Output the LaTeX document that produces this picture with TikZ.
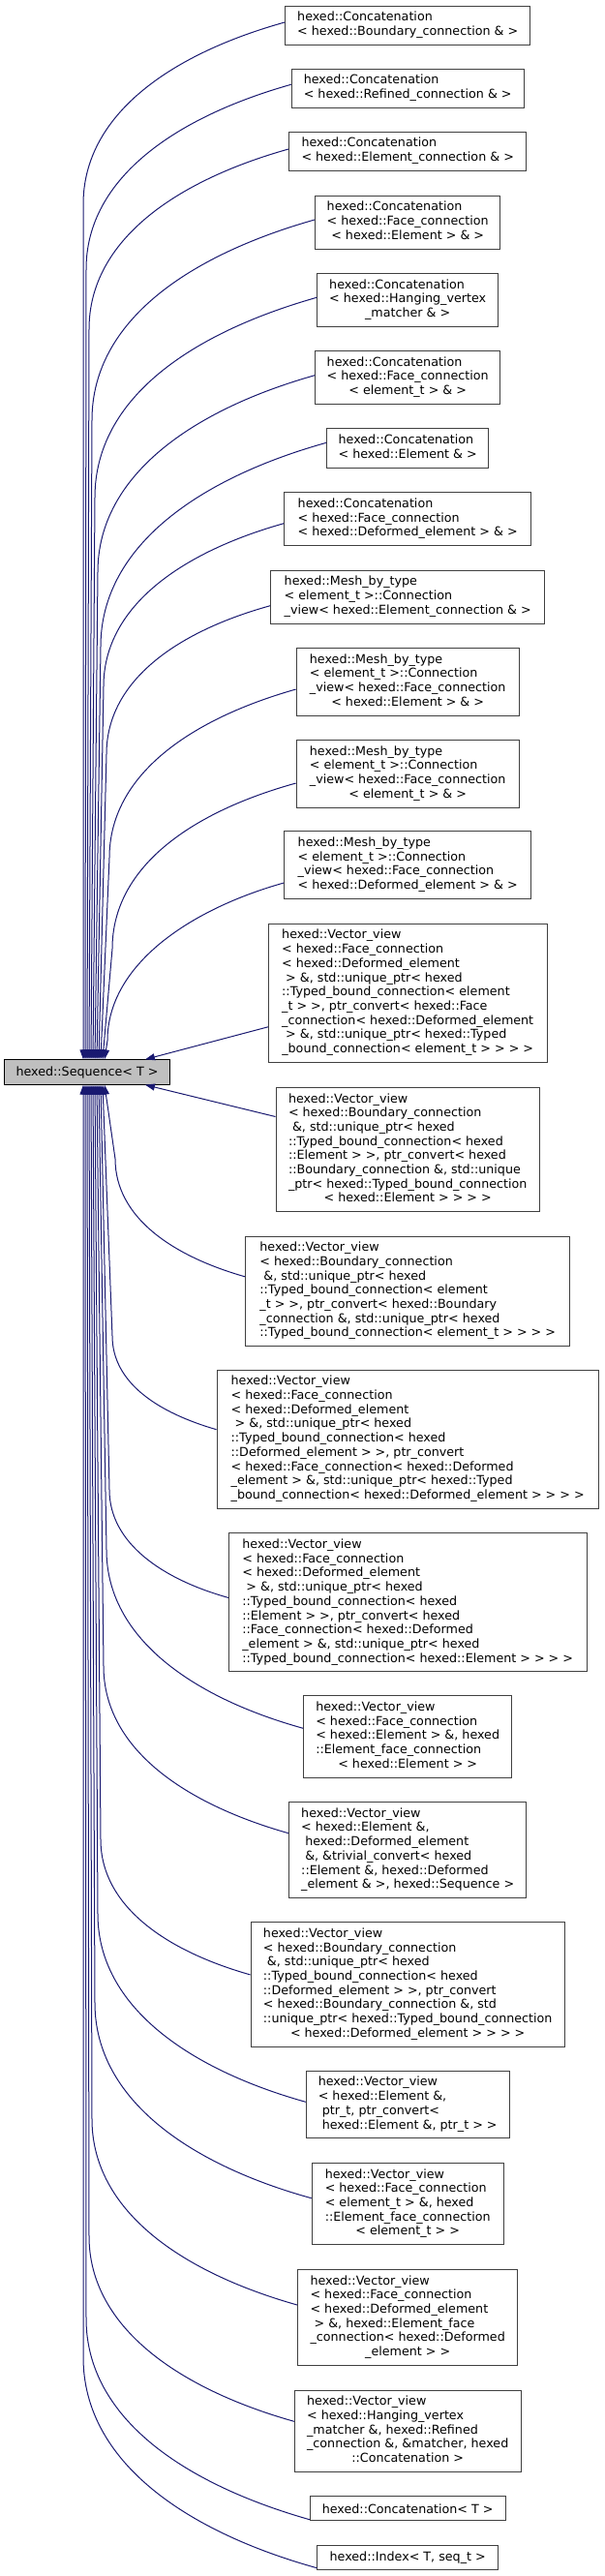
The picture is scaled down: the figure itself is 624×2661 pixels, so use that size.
\documentclass[tikz,border=0pt]{standalone}
\usepackage{fontspec}
\setmainfont{DejaVu Sans}
\usetikzlibrary{arrows.meta,calc}
\definecolor{edgeblue}{HTML}{191970}
\definecolor{boxline}{HTML}{404040}
\definecolor{seqfill}{HTML}{BFBFBF}
\newcommand{\dxlab}[2]{\begin{tabular}{@{}l@{}}#1\\\multicolumn{1}{@{}c@{}}{#2}\end{tabular}}
\begin{document}
\begin{tikzpicture}[x=1pt,y=-1pt,
  box/.style={draw=boxline, line width=1pt, fill=white, inner sep=0pt,
    font=\fontsize{12.7pt}{14.7pt}\selectfont, anchor=center},
  seqbox/.style={box, fill=seqfill, draw=black},
  edge/.style={draw=edgeblue, line width=1pt, -{Triangle[length=10pt,width=7pt]}}]
\useasboundingbox (0,0) rectangle (624,2661);

\node[seqbox, minimum width=171.6pt, minimum height=25.3pt] (seq) at (90,1107.5) {hexed::Sequence< T >};

\node[box, minimum width=253pt, minimum height=40pt] (n1) at (421.2,26) {\dxlab{hexed::Concatenation}{< hexed::Boundary\_connection \& >}};
\node[box, minimum width=240pt, minimum height=40pt] (n2) at (421.2,91) {\dxlab{hexed::Concatenation}{< hexed::Refined\_connection \& >}};
\node[box, minimum width=245.3pt, minimum height=40pt] (n3) at (421.2,156.3) {\dxlab{hexed::Concatenation}{< hexed::Element\_connection \& >}};
\node[box, minimum width=191.4pt, minimum height=54.7pt] (n4) at (421.2,229.7) {\dxlab{hexed::Concatenation\\< hexed::Face\_connection}{< hexed::Element > \& >}};
\node[box, minimum width=187pt, minimum height=54.7pt] (n5) at (421.2,310) {\dxlab{hexed::Concatenation\\< hexed::Hanging\_vertex}{\_matcher \& >}};
\node[box, minimum width=191pt, minimum height=54.7pt] (n6) at (421.2,390) {\dxlab{hexed::Concatenation\\< hexed::Face\_connection}{< element\_t > \& >}};
\node[box, minimum width=167pt, minimum height=40.3pt] (n7) at (421.2,463) {\dxlab{hexed::Concatenation}{< hexed::Element \& >}};
\node[box, minimum width=255pt, minimum height=54.7pt] (n8) at (421.2,536.3) {\dxlab{hexed::Concatenation\\< hexed::Face\_connection}{< hexed::Deformed\_element > \& >}};
\node[box, minimum width=283pt, minimum height=54.7pt] (n9) at (421.2,616.7) {\dxlab{hexed::Mesh\_by\_type\\< element\_t >::Connection}{\_view< hexed::Element\_connection \& >}};
\node[box, minimum width=230pt, minimum height=69.4pt] (n10) at (421.2,704.3) {\dxlab{hexed::Mesh\_by\_type\\< element\_t >::Connection\\\_view< hexed::Face\_connection}{< hexed::Element > \& >}};
\node[box, minimum width=230pt, minimum height=69.4pt] (n11) at (421.2,799.3) {\dxlab{hexed::Mesh\_by\_type\\< element\_t >::Connection\\\_view< hexed::Face\_connection}{< element\_t > \& >}};
\node[box, minimum width=255pt, minimum height=69.4pt] (n12) at (421.2,893.5) {\dxlab{hexed::Mesh\_by\_type\\< element\_t >::Connection\\\_view< hexed::Face\_connection}{< hexed::Deformed\_element > \& >}};
\node[box, minimum width=287.6pt, minimum height=142.6pt] (n13) at (421.2,1025.8) {\dxlab{hexed::Vector\_view\\< hexed::Face\_connection\\< hexed::Deformed\_element\\\ > \&, std::unique\_ptr< hexed\\::Typed\_bound\_connection< element\\\_t > >, ptr\_convert< hexed::Face\\\_connection< hexed::Deformed\_element\\\ > \&, std::unique\_ptr< hexed::Typed}{\_bound\_connection< element\_t > > > >}};
\node[box, minimum width=272.3pt, minimum height=128.2pt] (n14) at (421.2,1187.5) {\dxlab{hexed::Vector\_view\\< hexed::Boundary\_connection\\\ \&, std::unique\_ptr< hexed\\::Typed\_bound\_connection< hexed\\::Element > >, ptr\_convert< hexed\\::Boundary\_connection \&, std::unique\\\_ptr< hexed::Typed\_bound\_connection}{< hexed::Element > > > >}};
\node[box, minimum width=335.2pt, minimum height=113.5pt] (n15) at (421.2,1333.8) {\dxlab{hexed::Vector\_view\\< hexed::Boundary\_connection\\\ \&, std::unique\_ptr< hexed\\::Typed\_bound\_connection< element\\\_t > >, ptr\_convert< hexed::Boundary\\\_connection \&, std::unique\_ptr< hexed}{::Typed\_bound\_connection< element\_t > > > >}};
\node[box, minimum width=394.2pt, minimum height=142.9pt] (n16) at (421.2,1486.7) {\dxlab{hexed::Vector\_view\\< hexed::Face\_connection\\< hexed::Deformed\_element\\\ > \&, std::unique\_ptr< hexed\\::Typed\_bound\_connection< hexed\\::Deformed\_element > >, ptr\_convert\\< hexed::Face\_connection< hexed::Deformed\\\_element > \&, std::unique\_ptr< hexed::Typed}{\_bound\_connection< hexed::Deformed\_element > > > >}};
\node[box, minimum width=369.6pt, minimum height=142.9pt] (n17) at (421.2,1655.4) {\dxlab{hexed::Vector\_view\\< hexed::Face\_connection\\< hexed::Deformed\_element\\\ > \&, std::unique\_ptr< hexed\\::Typed\_bound\_connection< hexed\\::Element > >, ptr\_convert< hexed\\::Face\_connection< hexed::Deformed\\\_element > \&, std::unique\_ptr< hexed}{::Typed\_bound\_connection< hexed::Element > > > >}};
\node[box, minimum width=215pt, minimum height=84.1pt] (n18) at (421.2,1794) {\dxlab{hexed::Vector\_view\\< hexed::Face\_connection\\< hexed::Element > \&, hexed\\::Element\_face\_connection}{< hexed::Element > >}};
\node[box, minimum width=245.3pt, minimum height=98.8pt] (n19) at (421.2,1911) {\dxlab{hexed::Vector\_view\\< hexed::Element \&,\\\ hexed::Deformed\_element\\\ \&, \&trivial\_convert< hexed\\::Element \&, hexed::Deformed}{\_element \& >, hexed::Sequence >}};
\node[box, minimum width=324.2pt, minimum height=128.2pt] (n20) at (421.2,2049.9) {\dxlab{hexed::Vector\_view\\< hexed::Boundary\_connection\\\ \&, std::unique\_ptr< hexed\\::Typed\_bound\_connection< hexed\\::Deformed\_element > >, ptr\_convert\\< hexed::Boundary\_connection \&, std\\::unique\_ptr< hexed::Typed\_bound\_connection}{< hexed::Deformed\_element > > > >}};
\node[box, minimum width=209.7pt, minimum height=69.4pt] (n21) at (421.2,2174) {\dxlab{hexed::Vector\_view\\< hexed::Element \&,\\\ ptr\_t, ptr\_convert<}{\ hexed::Element \&, ptr\_t > >}};
\node[box, minimum width=198pt, minimum height=84.1pt] (n22) at (421.2,2276.5) {\dxlab{hexed::Vector\_view\\< hexed::Face\_connection\\< element\_t > \&, hexed\\::Element\_face\_connection}{< element\_t > >}};
\node[box, minimum width=227.3pt, minimum height=98.8pt] (n23) at (421.2,2393.9) {\dxlab{hexed::Vector\_view\\< hexed::Face\_connection\\< hexed::Deformed\_element\\\ > \&, hexed::Element\_face\\\_connection< hexed::Deformed}{\_element > >}};
\node[box, minimum width=233.7pt, minimum height=84.1pt] (n24) at (421.2,2511.2) {\dxlab{hexed::Vector\_view\\< hexed::Hanging\_vertex\\\_matcher \&, hexed::Refined\\\_connection \&, \&matcher, hexed}{::Concatenation >}};
\node[box, minimum width=201.7pt, minimum height=25.3pt] (n25) at (421.2,2591.3) {hexed::Concatenation< T >};
\node[box, minimum width=186.6pt, minimum height=25.3pt] (n26) at (421.2,2641.7) {hexed::Index< T, seq\_t >};

% upper edges
\draw[edge] ($(n1.west)+(0,-3)$) .. controls +(-115,32) and +(0,-94) .. (86,211) -- ($(seq.north)+(-4,0)$);
\draw[edge] ($(n2.west)+(0,-3.7)$) .. controls +(-117,33) and +(0,-95) .. (89,278) -- ($(seq.north)+(-2,0)$);
\draw[edge] ($(n3.west)+(0,-2.3)$) .. controls +(-114,32) and +(0,-93) .. (92,340) -- ($(seq.north)+(0,0)$);
\draw[edge] ($(n4.west)+(0,-2.7)$) .. controls +(-127,36) and +(0,-104) .. (95,434) -- ($(seq.north)+(2,0)$);
\draw[edge] ($(n5.west)+(0,-2.7)$) .. controls +(-127,36) and +(0,-104) .. (98,514) -- ($(seq.north)+(4,0)$);
\draw[edge] ($(n6.west)+(0,-2.3)$) .. controls +(-124,35) and +(0,-101) .. (101,591) -- ($(seq.north)+(6,0)$);
\draw[edge] ($(n7.west)+(0,-5.7)$) .. controls +(-129,36) and +(0,-105) .. (104,668) -- ($(seq.north)+(8,0)$);
\draw[edge] ($(n8.west)+(0,4.4)$) .. controls +(-103,29) and +(0,-84) .. (107,709) -- ($(seq.north)+(10,0)$);
\draw[edge] ($(n9.west)+(0,9)$) .. controls +(-94,26) and +(0,-77) .. (110,779) -- ($(seq.north)+(12,0)$);
\draw[edge] ($(n10.west)+(0,7.7)$) .. controls +(-106,30) and +(0,-87) .. (113,886) -- ($(seq.north)+(14,0)$);
\draw[edge] ($(n11.west)+(0,9.7)$) .. controls +(-105,29) and +(0,-86) .. (116,980) -- ($(seq.north)+(16,0)$);
\draw[edge] ($(n12.west)+(0,18.5)$) .. controls +(-96,27) and +(0,-79) .. (111,1075) -- ($(seq.north)+(18,0)$);
\draw[edge] ($(n13.west)+(0,35)$) -- ($(seq.north)+(60,0)$);
% lower edges
\draw[edge] ($(n14.west)+(0,-34)$) -- ($(seq.south)+(60,0)$);
\draw[edge] ($(n15.west)+(0,-15)$) .. controls +(-74,-21) and +(0,61) .. (119,1197) -- ($(seq.south)+(18,0)$);
\draw[edge] ($(n16.west)+(0,-10)$) .. controls +(-59,-17) and +(0,49) .. (116,1380) -- ($(seq.south)+(16,0)$);
\draw[edge] ($(n17.west)+(0,-5)$) .. controls +(-68,-19) and +(0,55) .. (113,1539) -- ($(seq.south)+(14,0)$);
\draw[edge] ($(n18.west)+(0,-8.7)$) .. controls +(-112,-31) and +(0,92) .. (110,1601) -- ($(seq.south)+(12,0)$);
\draw[edge] ($(n19.west)+(0,-17.3)$) .. controls +(-106,-30) and +(0,86) .. (107,1721) -- ($(seq.south)+(10,0)$);
\draw[edge] ($(n20.west)+(0,-10)$) .. controls +(-85,-24) and +(0,70) .. (104,1900) -- ($(seq.south)+(8,0)$);
\draw[edge] ($(n21.west)+(0,-2.7)$) .. controls +(-118,-33) and +(0,97) .. (101,1977) -- ($(seq.south)+(6,0)$);
\draw[edge] ($(n22.west)+(0,-5.8)$) .. controls +(-123,-34) and +(0,101) .. (98,2069) -- ($(seq.south)+(4,0)$);
\draw[edge] ($(n23.west)+(0,-12.9)$) .. controls +(-117,-33) and +(0,96) .. (95,2189) -- ($(seq.south)+(2,0)$);
\draw[edge] ($(n24.west)+(0,-9.9)$) .. controls +(-117,-33) and +(0,95) .. (92,2310) -- ($(seq.south)+(0,0)$);
\draw[edge] ($(n25.west)+(0,11.4)$) .. controls +(-127,-36) and +(0,104) .. (89,2395) -- ($(seq.south)+(-2,0)$);
\draw[edge] ($(n26.west)+(0,11)$) .. controls +(-133,-37) and +(0,109) .. (86,2435) -- ($(seq.south)+(-4,0)$);
\end{tikzpicture}
\end{document}
